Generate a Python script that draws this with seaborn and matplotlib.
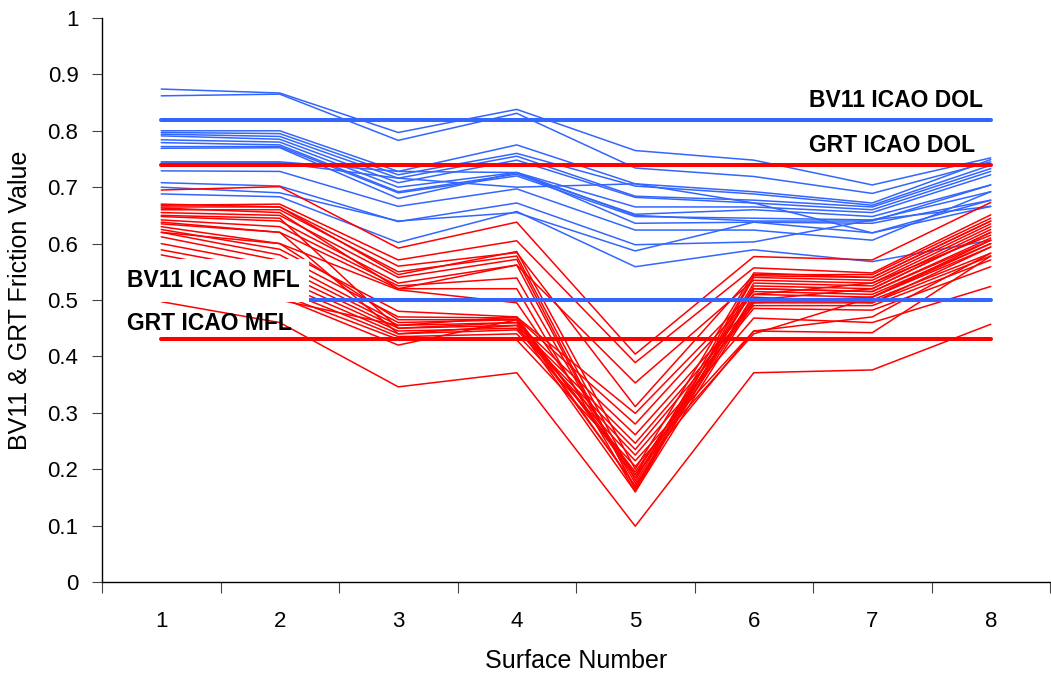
import numpy as np
import pandas as pd
import matplotlib
matplotlib.use("Agg")
import matplotlib.pyplot as plt
import seaborn as sns

surfaces = [1, 2, 3, 4, 5, 6, 7, 8]

blue_series = [
    [.874, .867, .797, .838, .765, .748, .704, .752],
    [.862, .865, .783, .831, .734, .719, .689, .745],
    [.800, .800, .728, .775, .706, .692, .672, .749],
    [.797, .795, .722, .760, .702, .688, .668, .739],
    [.794, .790, .716, .755, .684, .677, .665, .733],
    [.791, .785, .708, .748, .682, .672, .660, .728],
    [.784, .780, .700, .726, .665, .665, .655, .722],
    [.779, .775, .692, .723, .652, .660, .648, .704],
    [.772, .772, .690, .720, .648, .645, .642, .692],
    [.769, .770, .680, .726, .636, .638, .636, .677],
    [.743, .743, .716, .700, .706, .672, .619, .666],
    [.729, .728, .666, .697, .624, .624, .606, .692],
    [.708, .702, .639, .672, .598, .603, .642, .666],
    [.688, .683, .602, .657, .559, .589, .568, .606],
    [.745, .745, .728, .726, .650, .640, .640, .704],
    [.700, .690, .640, .655, .587, .638, .619, .677],
]

red_series = [
    [.695, .701, .592, .638, .404, .577, .571, .673],
    [.668, .670, .571, .605, .389, .557, .548, .651],
    [.665, .665, .560, .584, .311, .545, .545, .645],
    [.660, .660, .550, .578, .180, .543, .540, .640],
    [.655, .650, .540, .572, .165, .540, .535, .635],
    [.648, .640, .530, .562, .353, .535, .530, .630],
    [.642, .630, .525, .539, .175, .530, .525, .625],
    [.635, .620, .520, .520, .160, .525, .520, .620],
    [.630, .600, .518, .495, .190, .520, .515, .606],
    [.625, .590, .480, .470, .299, .515, .510, .600],
    [.620, .580, .470, .468, .280, .510, .505, .594],
    [.612, .570, .460, .465, .170, .500, .500, .583],
    [.600, .560, .455, .460, .261, .495, .495, .578],
    [.589, .550, .450, .455, .246, .490, .490, .571],
    [.580, .540, .445, .450, .235, .485, .482, .559],
    [.571, .530, .440, .447, .225, .468, .460, .524],
    [.560, .520, .435, .440, .215, .445, .442, .578],
    [.550, .510, .430, .429, .205, .440, .505, .606],
    [.540, .505, .420, .465, .195, .500, .520, .620],
    [.530, .500, .455, .470, .185, .505, .495, .594],
    [.670, .665, .545, .586, .200, .548, .540, .640],
    [.663, .655, .520, .562, .165, .510, .530, .615],
    [.650, .645, .450, .460, .170, .520, .515, .610],
    [.638, .620, .440, .455, .160, .495, .505, .600],
    [.497, .460, .346, .371, .099, .371, .376, .457],
    [.620, .600, .465, .465, .190, .445, .470, .583],
]

ref_names = ["BV11 ICAO DOL", "GRT ICAO DOL", "BV11 ICAO MFL", "GRT ICAO MFL"]
ref_values = [0.82, 0.74, 0.50, 0.43]
ref_groups = ["blue", "red", "blue", "red"]

y_ticks = [0, 0.1, 0.2, 0.3, 0.4, 0.5, 0.6, 0.7, 0.8, 0.9, 1.0]
y_tick_labels = ["0", "0.1", "0.2", "0.3", "0.4", "0.5", "0.6", "0.7", "0.8", "0.9", "1"]

BLUE = "#3366FF"
RED = "#FF0000"

rows = []
for i, s in enumerate(blue_series):
    for x, v in zip(surfaces, s):
        rows.append({"surface": x, "value": v, "series": f"b{i}", "group": "blue"})
for i, s in enumerate(red_series):
    for x, v in zip(surfaces, s):
        rows.append({"surface": x, "value": v, "series": f"r{i}", "group": "red"})
df = pd.DataFrame(rows)

ref_rows = []
for name, v, g in zip(ref_names, ref_values, ref_groups):
    for x in surfaces:
        ref_rows.append({"surface": x, "value": v, "series": name, "group": g})
ref_df = pd.DataFrame(ref_rows)

sns.set_style("white")
plt.rcParams['font.family'] = ['Liberation Sans', 'DejaVu Sans']
plt.rcParams['text.color'] = 'black'
plt.rcParams['axes.labelcolor'] = 'black'
plt.rcParams['xtick.labelcolor'] = 'black'
plt.rcParams['ytick.labelcolor'] = 'black'

fig = plt.figure(figsize=(10.51, 6.77), dpi=100)
ax = fig.add_axes([102 / 1051, 1 - 582 / 677, 948 / 1051, (582 - 18) / 677])

pal = {"blue": BLUE, "red": RED}
sns.lineplot(data=df[df.group == "blue"], x="surface", y="value", units="series",
             estimator=None, hue="group", palette=pal, linewidth=1.1, ax=ax,
             legend=False, sort=False)
sns.lineplot(data=df[df.group == "red"], x="surface", y="value", units="series",
             estimator=None, hue="group", palette=pal, linewidth=1.1, ax=ax,
             legend=False, sort=False)
sns.lineplot(data=ref_df, x="surface", y="value", units="series",
             estimator=None, hue="group", palette=pal, linewidth=2.9, ax=ax,
             legend=False, sort=False)

ax.set_xlim(0.5, 8.5)
ax.set_ylim(0, 1)
ax.set_yticks(y_ticks)
ax.set_yticklabels(y_tick_labels, fontsize=16)
ax.set_xticks(np.arange(0.5, 9.0, 1.0))
ax.set_xticklabels([])
ax.set_xticks(surfaces, minor=True)
ax.set_xticklabels([str(s) for s in surfaces], minor=True, fontsize=16)
ax.tick_params(axis="x", which="major", direction="out", length=8, width=0.8,
               color="#444444", bottom=True)
ax.tick_params(axis="x", which="minor", length=0, pad=21, labelcolor="black")
ax.tick_params(axis="y", direction="out", length=7, width=0.8, color="#444444",
               left=True, pad=10, labelcolor="black")

for side in ["top", "right"]:
    ax.spines[side].set_visible(False)
for side in ["left", "bottom"]:
    ax.spines[side].set_color("black")
    ax.spines[side].set_linewidth(1.0)

ax.set_xlabel("Surface Number", fontsize=18, labelpad=12, color="black")
ax.set_ylabel("BV11 & GRT Friction Value", fontsize=18, labelpad=11, color="black")

lab_kw = dict(fontsize=16.5, fontweight="bold", va="baseline", ha="left", color="black")
ax.text(6.47, 0.842, ref_names[0], **lab_kw)
ax.text(6.47, 0.762, ref_names[1], **lab_kw)
ax.text(0.71, 0.523, ref_names[2],
        bbox=dict(facecolor="white", edgecolor="none", pad=7), zorder=5, **lab_kw)
ax.text(0.71, 0.447, ref_names[3], zorder=5, **lab_kw)

fig.savefig("out.png", dpi=100)
